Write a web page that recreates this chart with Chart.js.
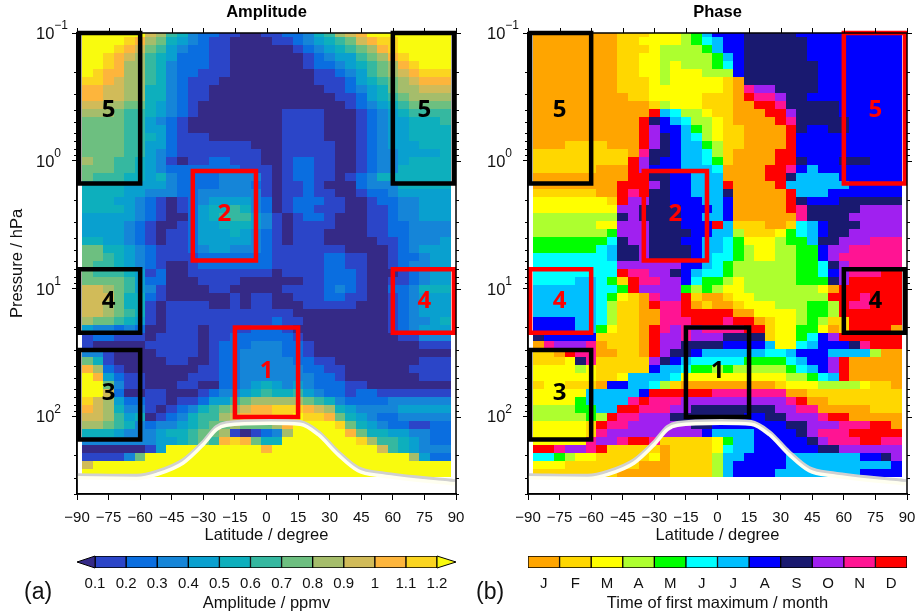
<!DOCTYPE html>
<html>
<head>
<meta charset="utf-8">
<title>Amplitude and Phase</title>
<script src="https://cdn.jsdelivr.net/npm/chart.js@4"></script>
<style>
html, body { margin: 0; padding: 0; background: #fff; }
#page { position: relative; width: 916px; height: 614px; overflow: hidden; }
canvas { position: absolute; }
.tag { position: absolute; font: 23px "Liberation Sans", sans-serif; color: #111; }
</style>
</head>
<body>
<div id="page">
    <canvas id="ampChart" width="480" height="545" style="left:0;top:0"></canvas>
    <canvas id="phaseChart" width="436" height="545" style="left:480px;top:0"></canvas>
    <canvas id="ampBar" width="480" height="63" style="left:0;top:550px"></canvas>
    <canvas id="phaseBar" width="436" height="63" style="left:480px;top:550px"></canvas>
    <div class="tag" style="left:24px;top:578px">(a)</div>
    <div class="tag" style="left:476px;top:578px">(b)</div>
</div>
<script>
const latitudes = [-85,-80,-75,-70,-65,-60,-55,-50,-45,-40,-35,-30,-25,-20,-15,-10,-5,0,5,10,15,20,25,30,35,40,45,50,55,60,65,70,75,80,85];
const pressures = [0.1,0.115,0.133,0.154,0.178,0.205,0.237,0.274,0.316,0.365,0.422,0.487,0.562,0.649,0.75,0.866,
    1,1.155,1.334,1.54,1.778,2.054,2.371,2.738,3.162,3.652,4.217,4.87,5.623,6.494,7.499,8.66,
    10,11.55,13.34,15.4,17.78,20.54,23.71,27.38,31.62,36.52,42.17,48.7,56.23,64.94,74.99,86.6,
    100,115.5,133.4,154,177.8,205.4,237.1,273.8];

const latTicks = [-90,-75,-60,-45,-30,-15,0,15,30,45,60,75,90];
const pressureTicks = [0.1,1,10,100];
const pressureExponents = ['\u22121','0','1','2'];
const minorPressures = [0.2,0.3,0.4,0.5,0.6,0.7,0.8,0.9,2,3,4,5,6,7,8,9,20,30,40,50,60,70,80,90,200,300,400];

const ampLevels = [0.1,0.2,0.3,0.4,0.5,0.6,0.7,0.8,0.9,1,1.1,1.2];
const ampColors = ['#352a87','#2b45c8','#0a6ee0','#1585d8','#09a0cf','#0dafbd','#35b8a0','#6dbf80','#a5bd6b','#d1bb59','#fdb53c','#fbd520','#f9fb0e'];
const months = ['J','F','M','A','M','J','J','A','S','O','N','D'];
const monthColors = ['#ffa500','#ffd700','#ffff00','#adff2f','#00ff00','#00ffff','#00bfff','#0000ff','#191970','#a020f0','#ff1493','#ff0000'];

// one string per pressure level, one base-13 digit per latitude: colour class of the amplitude
const ampRows = [
'cccccc986532211001 12235689acccccccc',
'ccccba875432110000 112345679abbccccc',
'cccba9764322110000 0012345678abccccc',
'ccba98654222110000 00012344678abcccc',
'ccba88653222110000 000122345678abccc',
'cbaa88653221110000 0000112346789abbb',
'bba988653211100000 00001112456789aaa',
'aa9988553211000000 00000112345788999',
'aa9988553211000000 00000011245678888',
'998877543210000000 00000001234567777',
'888766543210000000 01111000123456666',
'777766432100000000 01111000123445556',
'777766442100000000 01111000123445555',
'777766542111000000 01111000123445555',
'777766442111111100 01111100123444555',
'777766432111111110 01111100123344445',
'877665431011221110 01221100123345555',
'777665432222222111 01221100123355555',
'766655453222233331 01221101235555555',
'555544443222233321 01121000233355555',
'555544333223333331 01121100122344444',
'555443210123444432 01222110012233444',
'555543210124556532 01221110011233444',
'444443210024566643 10122100011233444',
'444432100124455543 10111100011223333',
'444432101124445432 10111000011223333',
'554432101124444432 10111000001123334',
'775543211123443332 11111110000123444',
'776543211112222222 11111221100122344',
'766543210012222222 11111221100123344',
'766654120011111111 01111222100012344',
'777764220001111000 00011222100112344',
'998764310000110000 01111232100223555',
'999755210000001011 00111221100123444',
'998755101111001011 00011111000123444',
'998765101111111111 11000000000123444',
'877654101111111111 21100000000123345',
'433232001110111122 21000000000123444',
'122111011110112222 22100000000011333',
'100000111110122233 32210000000000111',
'331000011110122333 32210000000000000',
'751000001100122333 33221100000000111',
'a82100000001122333 33322110000001111',
'ca4211000011122333 33332210000000111',
'cc7311000110022345 43432221100000000',
'cc9200110001233456 55643221221111111',
'b98422110112446788 88876532222333333',
'a985331012356789aa bbba9854333344444',
'998645012356689aaa bbcbba75432233333',
'887653233456778777 8accccb7543221122',
'555433345567781012 38ccccca755443322',
'3333333445676aba75 5cccccccb86654322',
'00000014ccccccccca cccccccccc9654333',
'111137cccccccccccc ccccccccccccc8422',
'9ccccccccccccccccc ccccccccccccccccc',
'cccccccccccccccccc ccccccccccccccccc'
];

// same layout: month index of the first maximum (0 = J ... b = D)
const phaseRows = [
'000000001112223467 77888887777777777',
'000000001122223456 77888888777777777',
'000000001112333346 77888888777777777',
'000000001122333334 67888888777777777',
'000000001122323334 57888888877777777',
'000000001122322233 37888888877777777',
'000000001112322222 10888888877777777',
'000000001112222222 10a99888877777777',
'000000000112222211 10baa988777777777',
'000000000001322211 100bba88888777777',
'00000000000b653321 1000bb98888777777',
'0000000000b8765332 10000ba8888877777',
'0000000000b9776432 110000b8778877777',
'0000000000b9876532 110000b7777777777',
'0001111000b9876643 110000b7777777777',
'1111111110a8876653 10000bb7777777777',
'111111111b98776654 10000bb8777888777',
'111111000b97776665 0000bba7677777777',
'000000000bb8877666 0000bb86666777777',
'00000000bbb9877666 b0000b66666677777',
'11111100bab8877666 800000b6667777777',
'22222221b998877766 700000b8777888888',
'222222229988887776 700000ba888889999',
'333333338988887766 7000000a888899999',
'33333322999888777b 61110015678889999',
'333333349998888776 63111245678899999',
'444444458998887766 54222344688999aaa',
'444444568898888766 543223344799aaaaa',
'555555568898888765 54322334479aaaaaa',
'555555559999997765 433333344589aaaaa',
'55555555baa9987655 433333344579aaabb',
'555566541baa997544 323333344489bbbbb',
'666666554b99994343 22333333320bbbbbb',
'66666654210a99b100 1223333333bbbabbb',
'66666653110baab010 01222333443baabbb',
'666666531100aabbbb b0022223443bbbbbb',
'777766531100aaabbb abb012234311bbbbb',
'77776642110ba9a9aa aabb12244201bbbb0',
'87777711110b99a999 88881224579bbbbbb',
'0a999a01110b998888 7777622567778abbb',
'110baa00110b988766 66665567776666300',
'11128a111119876555 55444456779b00000',
'222232111117665443 43333345679b00000',
'222222112666652222 22222233456b00000',
'122111077665310000 00000122233332110',
'22222666667bbbbbba aaaaaa00111111111',
'222246666abaaa9999 999999ab001111111',
'33334466bbaaa99888 8888899aa00000111',
'3333343baa99988888 887788999abb00000',
'222221baa999999887 77777788999aaabb0',
'222221a99999999976 666777789aaabbbbb',
'22222a99abba111112 4667777789aaabbaa',
'bba99ab11111011112 56677777788999999',
'554322111112011113 66777766666667789',
'222111111100011113 67777766666666667',
'111111110000011113 67777666666667777'
];

// latitude / pressure limits of the marked regions
const boxLats = { west: [-89,-60], east: [60,89], mid2: [-35,-5], mid1: [-15,15] };
const boxP = { r5: [0.1,1.5], r4: [7,22], r3: [30,150], r2: [1.2,6], r1: [20,100] };

const tropoLats = [-90,-61.6,-52,-39.6,-30,-23.7,-19,1.6,16,24.5,34,43.5,54.7,89.5];
const tropoGrey = [284,287,267,217,156,119,111,107,109,130,187,250,274,316];
const tropoWhite = [299,302,281,229,164,125,116,112,114,137,197,263,288,333];

const font = '"Liberation Sans", Arial, sans-serif';

function parseRows(rows) {
    const cells = [];
    rows.forEach((row, j) => {
        const digits = row.replace(/\s/g, '');
        latitudes.forEach((lat, i) => {
            cells.push({ x: lat, y: pressures[j], v: parseInt(digits[i], 13) });
        });
    });
    return cells;
}

function boxLine(lats, ps) {
    return [
        { x: lats[0], y: ps[0] }, { x: lats[1], y: ps[0] }, { x: lats[1], y: ps[1] },
        { x: lats[0], y: ps[1] }, { x: lats[0], y: ps[0] }, { x: lats[1], y: ps[0] }
    ];
}

function pressureEdge(scale, j, side) {
    const here = scale.getPixelForValue(pressures[j]);
    const other = pressures[j + side];
    if (other === undefined) return here + side * 4;
    return (here + scale.getPixelForValue(other)) / 2;
}

const heatPlugin = {
    id: 'heat',
    beforeDatasetsDraw(chart, args, opts) {
        const { ctx, chartArea: a, scales: { x, y } } = chart;
        ctx.save();
        ctx.beginPath();
        ctx.rect(a.left, a.top, a.width, a.height);
        ctx.clip();
        opts.cells.forEach((c, n) => {
            const j = Math.floor(n / latitudes.length);
            const x0 = Math.round(x.getPixelForValue(c.x - 2.5));
            const x1 = Math.round(x.getPixelForValue(c.x + 2.5));
            const y0 = Math.round(pressureEdge(y, j, -1));
            const y1 = Math.round(pressureEdge(y, j, 1));
            ctx.fillStyle = opts.colors[c.v];
            ctx.fillRect(x0, y0, x1 - x0, y1 - y0);
        });
        ctx.restore();
    },
    afterDatasetsDraw(chart, args, opts) {
        const { ctx, scales: { x, y } } = chart;
        ctx.save();
        ctx.font = 'bold 24px "Open Sans", sans-serif';
        ctx.textAlign = 'center';
        ctx.textBaseline = 'middle';
        opts.labels.forEach(l => {
            ctx.fillStyle = l.color;
            ctx.fillText(l.text, x.getPixelForValue(l.lat), y.getPixelForValue(l.p));
        });
        ctx.restore();
    },
    afterDraw(chart) {
        const { ctx, chartArea: a, scales: { x, y } } = chart;
        ctx.save();
        ctx.strokeStyle = '#000';
        ctx.lineWidth = 1.5;
        ctx.strokeRect(a.left, a.top, a.width, a.height);
        ctx.lineWidth = 1;
        ctx.beginPath();
        latTicks.forEach(v => {
            const px = Math.round(x.getPixelForValue(v)) + 0.5;
            ctx.moveTo(px, a.top); ctx.lineTo(px, a.top - 5);
        });
        pressureTicks.forEach(v => {
            const py = Math.round(y.getPixelForValue(v)) + 0.5;
            ctx.moveTo(a.right, py); ctx.lineTo(a.right + 5, py);
        });
        minorPressures.forEach(v => {
            const py = Math.round(y.getPixelForValue(v)) + 0.5;
            ctx.moveTo(a.right, py); ctx.lineTo(a.right + 3, py);
            ctx.moveTo(a.left, py); ctx.lineTo(a.left - 3, py);
        });
        ctx.stroke();

        // decade labels with a raised exponent
        ctx.fillStyle = '#111';
        ctx.textAlign = 'left';
        ctx.textBaseline = 'middle';
        pressureTicks.forEach((v, i) => {
            const py = y.getPixelForValue(v);
            const left = a.left - 41;
            ctx.font = '16.5px ' + font;
            const baseWidth = ctx.measureText('10').width;
            ctx.fillText('10', left, py + 1);
            ctx.font = '12px ' + font;
            ctx.fillText(pressureExponents[i], left + baseWidth, py - 7);
        });
        ctx.restore();
    }
};

function lineSet(data, color, width) {
    return {
        type: 'scatter', data, showLine: true, pointRadius: 0, borderColor: color, borderWidth: width,
        tension: 0, borderJoinStyle: 'miter', clip: false, fill: false
    };
}

function tropoPoints(ps) {
    return tropoLats.map((lat, i) => ({ x: lat, y: ps[i] }));
}

function makeMap(id, title, rows, colors, boxes, labels, yWidth, rightPad, yTitle) {
    const datasets = [
        Object.assign(lineSet(tropoPoints(tropoWhite), '#fffff0', 3.5), { cubicInterpolationMode: 'monotone' }),
        Object.assign(lineSet(tropoPoints(tropoGrey), '#d0d0d0', 3.5), { cubicInterpolationMode: 'monotone' })
    ];
    boxes.forEach(b => datasets.push(lineSet(boxLine(b.lats, b.ps), b.color, 4.5)));
    return new Chart(document.getElementById(id), {
        type: 'scatter',
        data: { datasets },
        options: {
            responsive: false,
            animation: false,
            layout: { padding: { right: rightPad } },
            plugins: {
                legend: { display: false },
                tooltip: { enabled: false },
                title: {
                    display: true, text: title, color: '#000', fullSize: false,
                    font: { family: font, size: 16.5, weight: 'bold' },
                    padding: { top: 3, bottom: 10.2 }
                },
                heat: { cells: parseRows(rows), colors, labels }
            },
            scales: {
                x: {
                    type: 'linear', min: -90, max: 90,
                    afterBuildTicks: s => { s.ticks = latTicks.map(v => ({ value: v })); },
                    afterFit: s => { s.height = 51; s.paddingLeft = 0; s.paddingRight = 0; },
                    grid: { drawOnChartArea: false, tickLength: 6, tickColor: '#000' },
                    border: { color: '#000', width: 1.5 },
                    ticks: {
                        color: '#111', autoSkip: false, maxRotation: 0, padding: 9,
                        font: { family: font, size: 15 },
                        callback: v => (v < 0 ? '\u2212' + (-v) : '' + v)
                    },
                    title: { display: true, text: 'Latitude / degree', color: '#111', padding: { top: 0, bottom: 0 }, font: { family: font, size: 16.5 } }
                },
                y: {
                    type: 'logarithmic', reverse: true, min: 0.1, max: 400,
                    afterBuildTicks: s => { s.ticks = pressureTicks.map(v => ({ value: v })); },
                    afterFit: s => { s.width = yWidth; },
                    grid: { drawOnChartArea: false, tickLength: 5, tickColor: '#000' },
                    border: { color: '#000', width: 1.5 },
                    ticks: { display: false },
                    title: { display: yTitle, text: 'Pressure / hPa', color: '#111', padding: { top: 8, bottom: 0 }, font: { family: font, size: 16.5 } }
                }
            }
        },
        plugins: [heatPlugin]
    });
}

const arrowPlugin = {
    id: 'arrows',
    afterDatasetsDraw(chart, args, opts) {
        if (!opts.left) return;
        const { ctx, chartArea: a, scales: { x } } = chart;
        const mid = (a.top + a.bottom) / 2;
        const lo = x.getPixelForValue(ampLevels[0]);
        const hi = x.getPixelForValue(ampLevels[ampLevels.length - 1]);
        ctx.save();
        ctx.strokeStyle = '#000';
        ctx.lineWidth = 1;
        [[a.left, lo, opts.left], [a.right, hi, opts.right]].forEach(t => {
            ctx.beginPath();
            ctx.moveTo(t[0], mid);
            ctx.lineTo(t[1], a.top);
            ctx.lineTo(t[1], a.bottom);
            ctx.closePath();
            ctx.fillStyle = t[2];
            ctx.fill();
            ctx.stroke();
        });
        ctx.restore();
    }
};

function makeBar(id, segments, colors, min, max, tickValues, tickText, axisTitle, leftPad, rightPad, arrows) {
    return new Chart(document.getElementById(id), {
        type: 'bar',
        data: {
            labels: ['scale'],
            datasets: segments.map((s, i) => ({
                data: [s], backgroundColor: colors[i], borderColor: '#000', borderWidth: 1,
                barPercentage: 1, categoryPercentage: 1, grouped: false, borderSkipped: false
            }))
        },
        options: {
            indexAxis: 'y',
            responsive: false,
            animation: false,
            layout: { padding: { left: leftPad, right: rightPad, top: 6 } },
            plugins: { legend: { display: false }, tooltip: { enabled: false }, arrows },
            scales: {
                y: { display: false },
                x: {
                    type: 'linear', min, max,
                    afterBuildTicks: s => { s.ticks = tickValues.map(v => ({ value: v })); },
                    afterFit: s => { s.height = 45; s.paddingLeft = 0; s.paddingRight = 0; },
                    grid: { display: false, drawTicks: false },
                    border: { display: false },
                    ticks: {
                        color: '#111', autoSkip: false, maxRotation: 0, padding: 7,
                        font: { family: font, size: 15 },
                        callback: v => tickText[tickValues.indexOf(v)]
                    },
                    title: { display: true, text: axisTitle, color: '#111', padding: { top: 0, bottom: 0 }, font: { family: font, size: 16.5 } }
                }
            }
        },
        plugins: [arrowPlugin]
    });
}

const regionsAmp = [
    { lats: boxLats.west, ps: boxP.r5, color: '#000' },
    { lats: boxLats.west, ps: boxP.r4, color: '#000' },
    { lats: boxLats.west, ps: boxP.r3, color: '#000' },
    { lats: boxLats.east, ps: boxP.r5, color: '#000' },
    { lats: boxLats.east, ps: boxP.r4, color: '#f00' },
    { lats: boxLats.mid2, ps: boxP.r2, color: '#f00' },
    { lats: boxLats.mid1, ps: boxP.r1, color: '#f00' }
];
const regionsPhase = [
    { lats: boxLats.west, ps: boxP.r5, color: '#000' },
    { lats: boxLats.west, ps: boxP.r4, color: '#f00' },
    { lats: boxLats.west, ps: boxP.r3, color: '#000' },
    { lats: boxLats.east, ps: boxP.r5, color: '#f00' },
    { lats: boxLats.east, ps: boxP.r4, color: '#000' },
    { lats: boxLats.mid2, ps: boxP.r2, color: '#f00' },
    { lats: boxLats.mid1, ps: boxP.r1, color: '#000' }
];
const labelsAmp = [
    { text: '5', lat: -75, p: 0.4, color: '#000' }, { text: '4', lat: -75, p: 12.5, color: '#000' },
    { text: '3', lat: -75, p: 65, color: '#000' }, { text: '5', lat: 75, p: 0.4, color: '#000' },
    { text: '4', lat: 75, p: 12.5, color: '#f00' }, { text: '2', lat: -20, p: 2.6, color: '#f00' },
    { text: '1', lat: 0, p: 44, color: '#f00' }
];
const labelsPhase = [
    { text: '5', lat: -75, p: 0.4, color: '#000' }, { text: '4', lat: -75, p: 12.5, color: '#f00' },
    { text: '3', lat: -75, p: 65, color: '#000' }, { text: '5', lat: 75, p: 0.4, color: '#f00' },
    { text: '4', lat: 75, p: 12.5, color: '#000' }, { text: '2', lat: -20, p: 2.6, color: '#f00' },
    { text: '1', lat: 0, p: 44, color: '#000' }
];

makeMap('ampChart', 'Amplitude', ampRows, ampColors, regionsAmp, labelsAmp, 77, 24, true);
makeMap('phaseChart', 'Phase', phaseRows, monthColors, regionsPhase, labelsPhase, 48, 9, false);

const ampSegments = ampLevels.slice(0, -1).map((v, i) => [v, ampLevels[i + 1]]);
makeBar('ampBar', ampSegments, ampColors.slice(1, 12), 0.042, 1.261, ampLevels,
    ['0.1','0.2','0.3','0.4','0.5','0.6','0.7','0.8','0.9','1','1.1','1.2'], 'Amplitude / ppmv', 77, 24,
    { left: ampColors[0], right: ampColors[12] });

const monthEdges = [[0,1],[1,2],[2,3],[3,4],[4,5],[5,6],[6,7],[7,8],[8,9],[9,10],[10,11],[11,12]];
const monthCentres = [0.5,1.5,2.5,3.5,4.5,5.5,6.5,7.5,8.5,9.5,10.5,11.5];
makeBar('phaseBar', monthEdges, monthColors, 0, 12, monthCentres, months, 'Time of first maximum / month', 48, 9, {});
</script>
</body>
</html>
